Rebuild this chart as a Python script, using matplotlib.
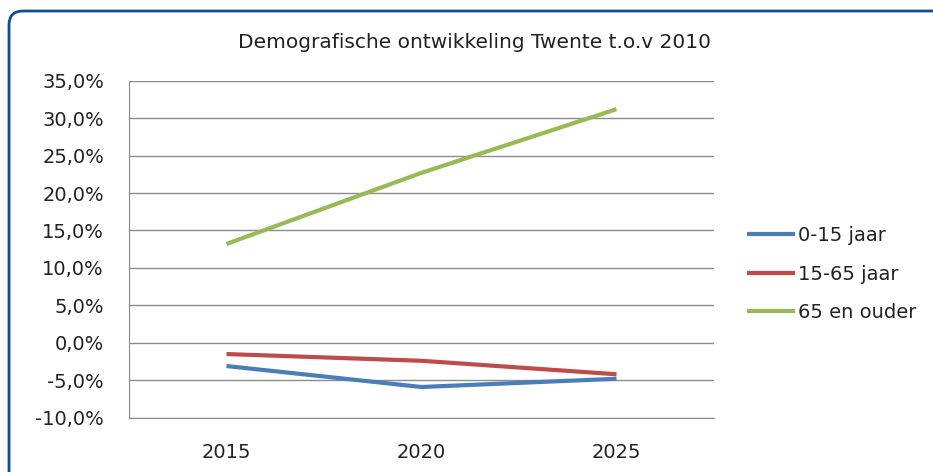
import matplotlib.pyplot as plt
from matplotlib.patches import FancyBboxPatch
from matplotlib.transforms import IdentityTransform
from matplotlib.ticker import FuncFormatter

# data
years = ["2015", "2020", "2025"]
jong = [-3.1, -5.9, -4.8]        # 0-15 jaar
midden = [-1.5, -2.4, -4.2]      # 15-65 jaar
oud = [13.2, 22.7, 31.2]         # 65 en ouder
series_labels = ["0-15 jaar", "15-65 jaar", "65 en ouder"]
y_ticks = [-10, -5, 0, 5, 10, 15, 20, 25, 30, 35]

colors = ["#4a7ebb", "#be4b48", "#98b954"]
grid_col = "#8c8c8c"
txt_col = "#222222"

fig = plt.figure(figsize=(9.33, 4.72), dpi=100)

# rounded blue frame, in pixels (bottom-left origin)
frame = FancyBboxPatch((9, -100), 1000, 472 - 11 + 100,
                       boxstyle="round,pad=0,rounding_size=14",
                       transform=IdentityTransform(), fill=False,
                       edgecolor="#0b4f9c", linewidth=2.0)
fig.patches.append(frame)

ax = fig.add_axes([129 / 933, 1 - 417.7 / 472, (714 - 129) / 933, (417.7 - 80.7) / 472])

x = range(len(years))
for vals, lab, c in zip([jong, midden, oud], series_labels, colors):
    ax.plot(x, vals, color=c, lw=3, label=lab, solid_capstyle="butt")

ax.set_xlim(-0.5, len(years) - 0.5)
ax.set_ylim(-10, 35)
ax.set_yticks(y_ticks)
ax.yaxis.set_major_formatter(FuncFormatter(lambda v, p: f"{v:.1f}%".replace(".", ",")))
ax.set_xticks(list(x))
ax.set_xticklabels(years)

ax.grid(axis="y", color=grid_col, lw=1)
ax.set_axisbelow(True)
for s in ["top", "right"]:
    ax.spines[s].set_visible(False)
ax.spines["left"].set_color(grid_col)
ax.spines["bottom"].set_color(grid_col)
ax.tick_params(axis="both", length=0, labelsize=14, colors=txt_col)
ax.tick_params(axis="y", pad=18)
ax.tick_params(axis="x", pad=18)

fig.text(475 / 933, 1 - 42 / 472, "Demografische ontwikkeling Twente t.o.v 2010",
         ha="center", va="center", fontsize=14.5, color=txt_col)

leg = ax.legend(loc="center left", bbox_to_anchor=(729 / 933, 1 - 274 / 472),
                bbox_transform=fig.transFigure, frameon=False, fontsize=14,
                handlelength=2.5, handletextpad=0.15, labelspacing=1.0)
for t in leg.get_texts():
    t.set_color(txt_col)

fig.savefig("out.png", dpi=100)
